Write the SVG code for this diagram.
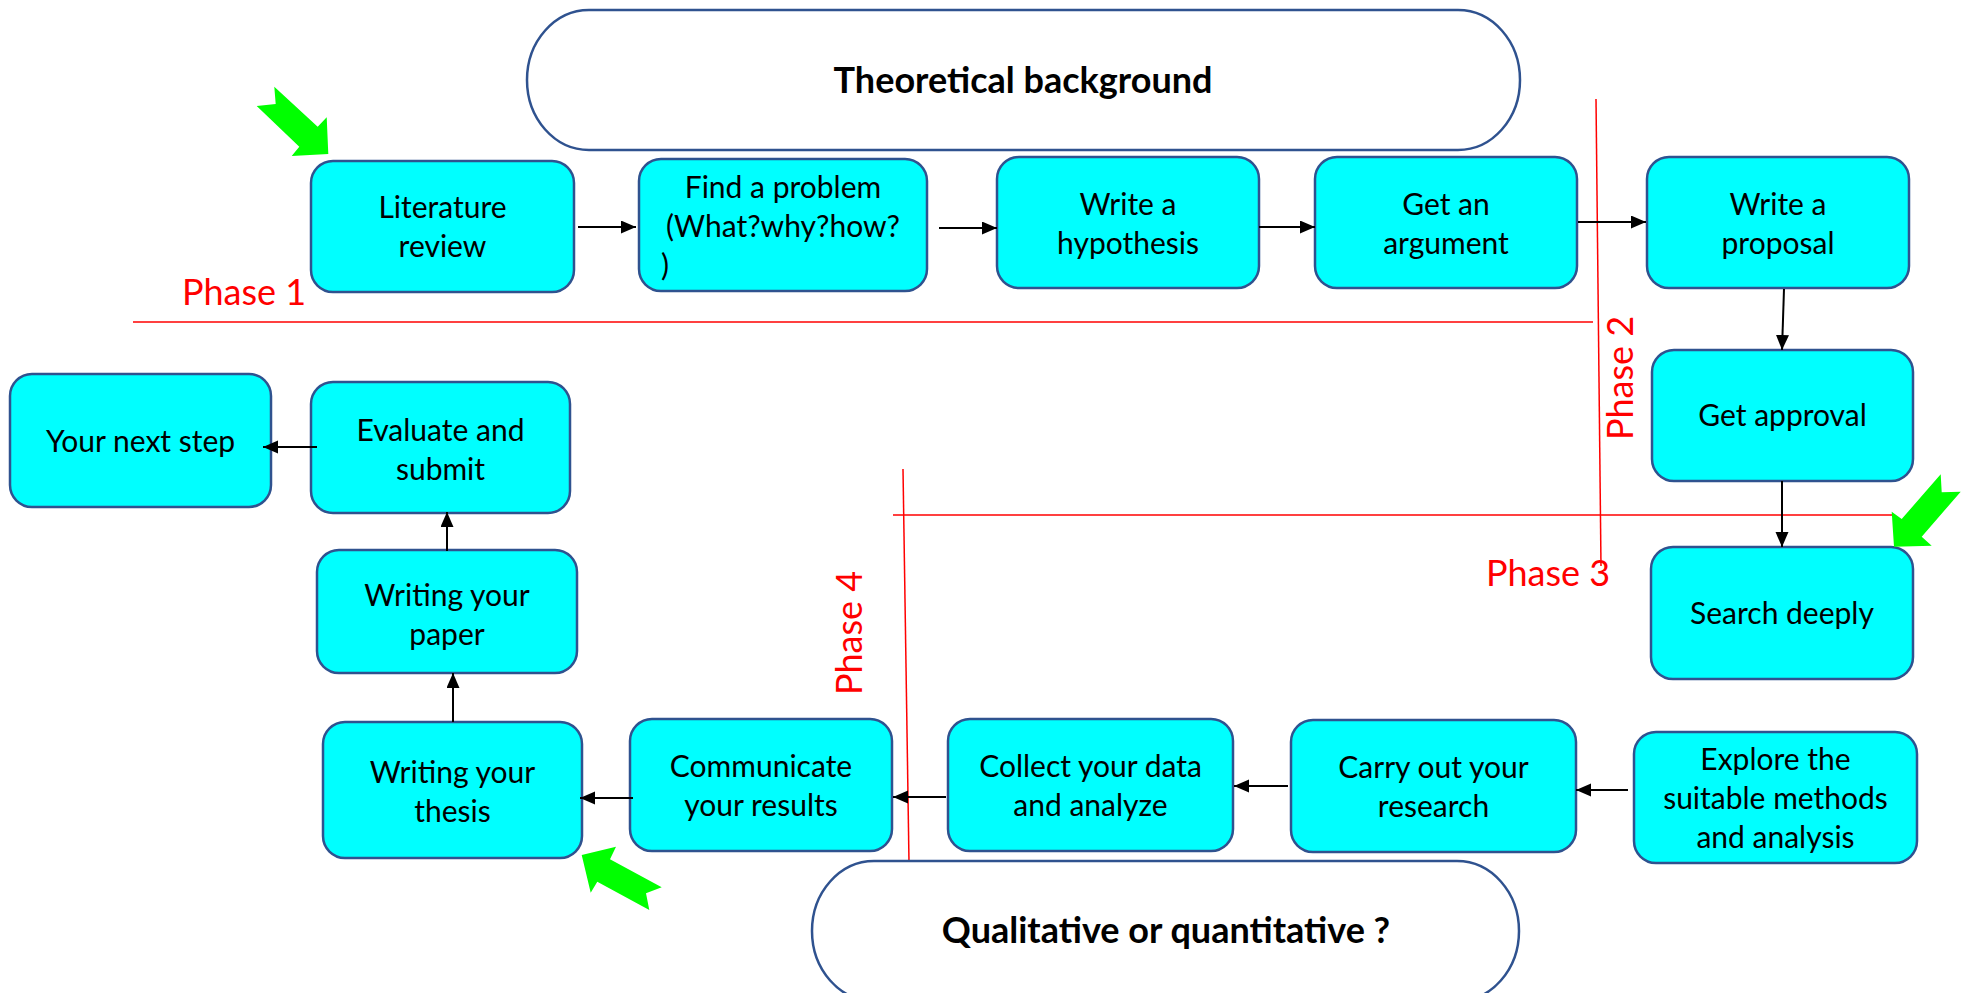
<svg xmlns="http://www.w3.org/2000/svg" width="1966" height="993" viewBox="0 0 1966 993">
<style>
.node rect{fill:#00FFFF;stroke:#2F528F;stroke-width:2.5}
.term rect{fill:#FFFFFF;stroke:#2F528F;stroke-width:2.5}
.t{font-family:Lato,"Open Sans","Liberation Sans",sans-serif;font-size:30px;fill:#000;text-anchor:middle}
.tb{font-family:Lato,"Open Sans","Liberation Sans",sans-serif;font-size:36px;font-weight:bold;fill:#000;text-anchor:middle}
.ph{font-family:Lato,"Open Sans","Liberation Sans",sans-serif;font-size:36px;fill:#FF0000}
.red{stroke:#FF0000;stroke-width:1.5;fill:none}
.con line{stroke:#000;stroke-width:2;marker-end:url(#ah)}
.green{fill:#00FF00}
</style>
<defs>
<marker id="ah" markerUnits="userSpaceOnUse" markerWidth="16" markerHeight="14" refX="15" refY="6.5" orient="auto">
<path d="M0,0 L15,6.5 L0,13 Z" fill="#000"/>
</marker>
</defs>
<rect width="1966" height="993" fill="#FFFFFF"/>

<g id="phase-lines">
<line class="red" x1="133" y1="322" x2="1593" y2="322"/>
<line class="red" x1="1596" y1="99" x2="1601" y2="566"/>
<line class="red" x1="893" y1="515" x2="1892" y2="515"/>
<line class="red" x1="903" y1="469" x2="909" y2="862"/>
<text class="ph" x="182" y="305">Phase 1</text>
<text class="ph" text-anchor="middle" transform="translate(1633,378) rotate(-90)">Phase 2</text>
<text class="ph" x="1486" y="586">Phase 3</text>
<text class="ph" text-anchor="middle" transform="translate(862,633) rotate(-90)">Phase 4</text>
</g>

<g id="theoretical" class="term">
<rect x="527" y="10" width="993" height="140" rx="62" ry="70"/>
<text class="tb" x="1023" y="93">Theoretical background</text>
</g>
<g id="qualitative" class="term">
<rect x="812" y="861" width="707" height="140" rx="62" ry="70"/>
<text class="tb" x="1166" y="943">Qualitative or quantitative ?</text>
</g>

<g id="n-literature" class="node">
<rect x="311" y="161" width="263" height="131" rx="22"/>
<text class="t" x="442.5" y="218">Literature</text>
<text class="t" x="442.5" y="257">review</text>
</g>
<g id="n-problem" class="node">
<rect x="639" y="159" width="288" height="132" rx="22"/>
<text class="t" x="783" y="198">Find a problem</text>
<text class="t" x="783" y="237">(What?why?how?</text>
<text class="t" x="665" y="276" text-anchor="start">)</text>
</g>
<g id="n-hypothesis" class="node">
<rect x="997" y="157" width="262" height="131" rx="22"/>
<text class="t" x="1128" y="215">Write a</text>
<text class="t" x="1128" y="254">hypothesis</text>
</g>
<g id="n-argument" class="node">
<rect x="1315" y="157" width="262" height="131" rx="22"/>
<text class="t" x="1446" y="215">Get an</text>
<text class="t" x="1446" y="254">argument</text>
</g>
<g id="n-proposal" class="node">
<rect x="1647" y="157" width="262" height="131" rx="22"/>
<text class="t" x="1778" y="215">Write a</text>
<text class="t" x="1778" y="254">proposal</text>
</g>
<g id="n-approval" class="node">
<rect x="1652" y="350" width="261" height="131" rx="22"/>
<text class="t" x="1782.5" y="426">Get approval</text>
</g>
<g id="n-search" class="node">
<rect x="1651" y="547" width="262" height="132" rx="22"/>
<text class="t" x="1782" y="624">Search deeply</text>
</g>
<g id="n-explore" class="node">
<rect x="1634" y="732" width="283" height="131" rx="22"/>
<text class="t" x="1775.5" y="770">Explore the</text>
<text class="t" x="1775.5" y="809">suitable methods</text>
<text class="t" x="1775.5" y="848">and analysis</text>
</g>
<g id="n-carry" class="node">
<rect x="1291" y="720" width="285" height="132" rx="22"/>
<text class="t" x="1433.5" y="778">Carry out your</text>
<text class="t" x="1433.5" y="817">research</text>
</g>
<g id="n-collect" class="node">
<rect x="948" y="719" width="285" height="132" rx="22"/>
<text class="t" x="1090.5" y="777">Collect your data</text>
<text class="t" x="1090.5" y="816">and analyze</text>
</g>
<g id="n-communicate" class="node">
<rect x="630" y="719" width="262" height="132" rx="22"/>
<text class="t" x="761" y="777">Communicate</text>
<text class="t" x="761" y="816">your results</text>
</g>
<g id="n-thesis" class="node">
<rect x="323" y="722" width="259" height="136" rx="22"/>
<text class="t" x="452.5" y="783">Writing your</text>
<text class="t" x="452.5" y="822">thesis</text>
</g>
<g id="n-paper" class="node">
<rect x="317" y="550" width="260" height="123" rx="22"/>
<text class="t" x="447" y="606">Writing your</text>
<text class="t" x="447" y="645">paper</text>
</g>
<g id="n-evaluate" class="node">
<rect x="311" y="382" width="259" height="131" rx="22"/>
<text class="t" x="440.5" y="441">Evaluate and</text>
<text class="t" x="440.5" y="480">submit</text>
</g>
<g id="n-next" class="node">
<rect x="10" y="374" width="261" height="133" rx="22"/>
<text class="t" x="140.5" y="452">Your next step</text>
</g>

<g id="connectors" class="con">
<line x1="578" y1="227" x2="636" y2="227"/>
<line x1="939" y1="228" x2="997" y2="228"/>
<line x1="1259" y1="227" x2="1315" y2="227"/>
<line x1="1578" y1="222" x2="1646" y2="222"/>
<line x1="1784" y1="289" x2="1782" y2="350"/>
<line x1="1782" y1="481" x2="1782" y2="547"/>
<line x1="1628" y1="790" x2="1576" y2="790"/>
<line x1="1288" y1="786" x2="1234" y2="786"/>
<line x1="946" y1="797" x2="893" y2="797"/>
<line x1="633" y1="798" x2="580" y2="798"/>
<line x1="453" y1="722" x2="453" y2="673"/>
<line x1="447" y1="551" x2="447" y2="512"/>
<line x1="317" y1="447" x2="263" y2="447"/>
</g>

<g id="green-arrows">
<polygon class="green" points="274.3,86.7 275.7,104 256.7,106 299.3,146.7 291.7,156 328.3,154 326.7,117.3 317.7,126.7"/>
<polygon class="green" points="1940.7,474.3 1941.7,492.3 1960.7,491.7 1921.7,536.7 1931.7,545.7 1894,546.7 1891.7,511.7 1901.7,519"/>
<polygon class="green" points="581.7,855 616,846.7 610,859.3 661.7,887.3 646,893.3 649.3,910 597.3,881.7 590.7,892.7"/>
</g>
</svg>
